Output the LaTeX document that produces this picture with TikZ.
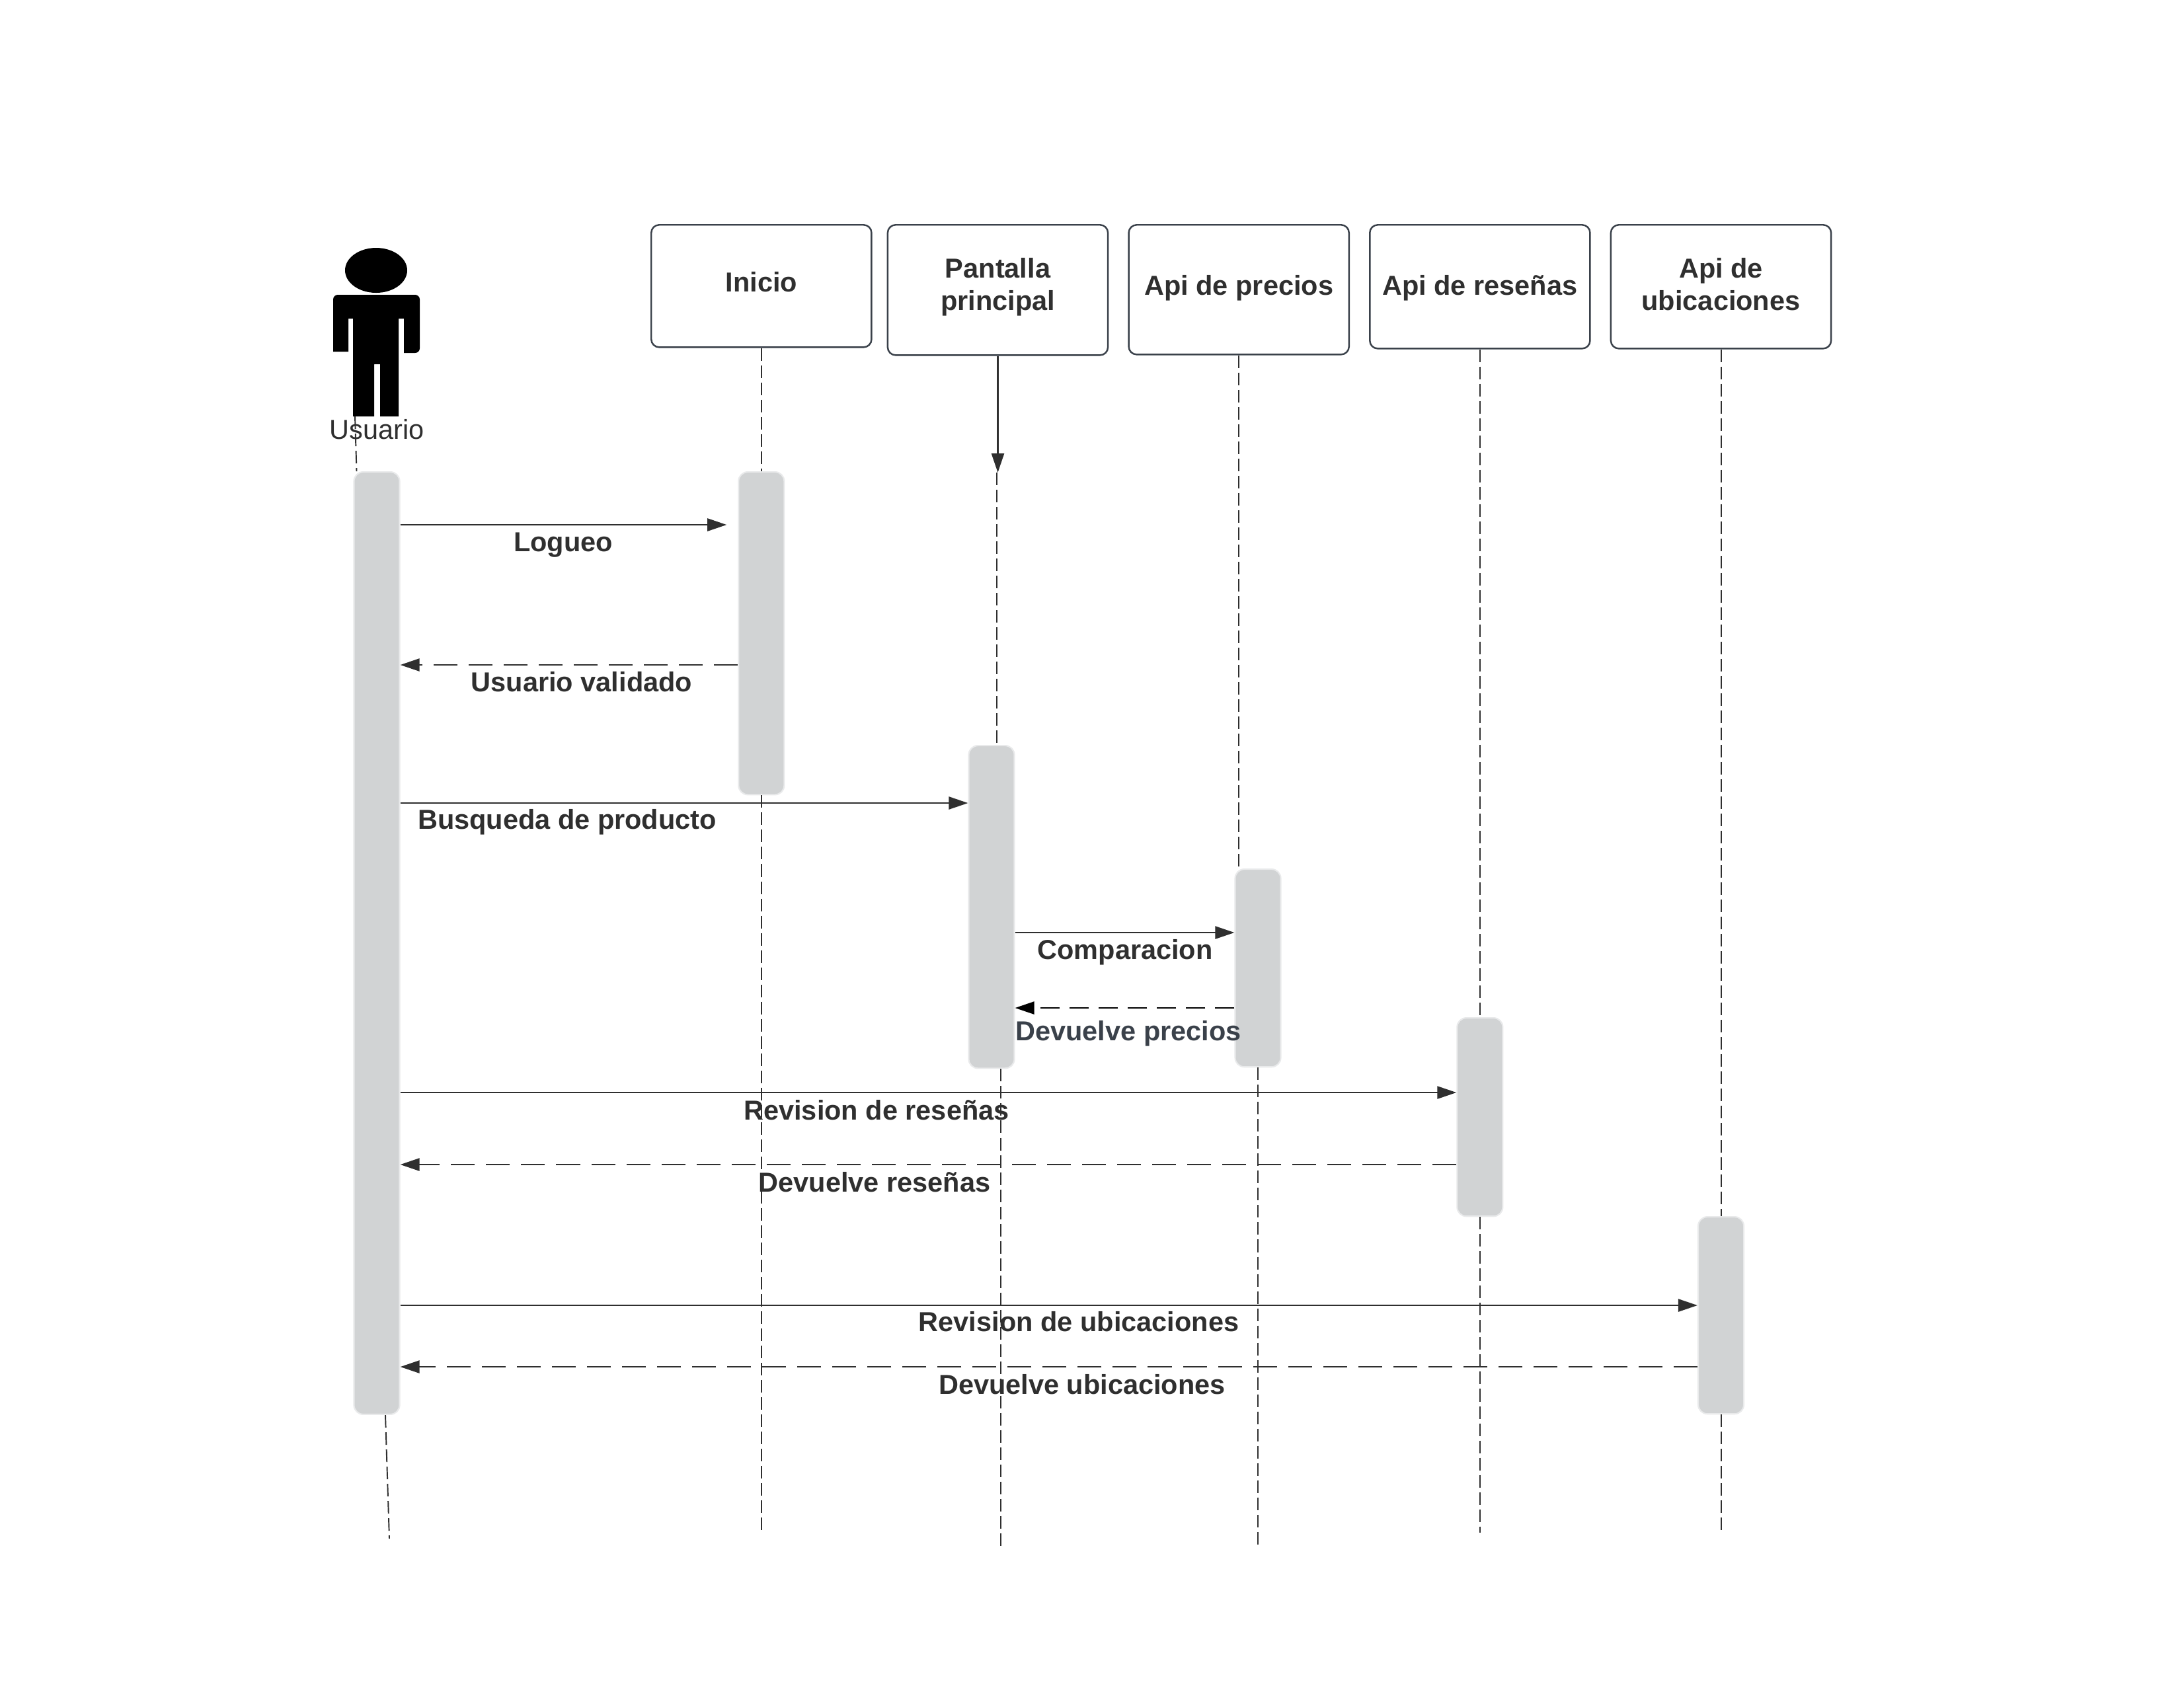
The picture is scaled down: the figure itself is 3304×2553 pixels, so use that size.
\documentclass[tikz,border=0pt]{standalone}
\usepackage{fontspec}
\setmainfont{Liberation Sans}
\usepackage{tikz}
\usetikzlibrary{arrows.meta,positioning}
\definecolor{inkgray}{HTML}{2F2F2F}
\definecolor{slategray}{HTML}{3A414A}
\definecolor{barfill}{HTML}{D1D3D4}
\definecolor{baredge}{HTML}{E9EAEB}

\begin{document}
\begin{tikzpicture}[
    x=0.01cm,
    y=-0.01cm,
    headbox/.style={
    rectangle,
    draw=slategray,
    line width=0.7pt,
    rounded corners=0.12cm,
    align=center,
    inner sep=0pt,
    minimum width=3.33cm,
    text=inkgray,
    font=\fontsize{11.8}{13.9}\selectfont\bfseries},
    lifebar/.style={
    rectangle,
    draw=baredge,
    line width=0.6pt,
    fill=barfill,
    rounded corners=0.14cm,
    inner sep=0pt,
    minimum width=0.69cm},
    msglabel/.style={
    inner sep=0pt,
    text=inkgray,
    font=\fontsize{11.8}{13.9}\selectfont\bfseries},
    msgarrow/.style={
    draw=inkgray,
    line width=0.7pt,
    -{Triangle[length=0.29cm,width=0.19cm]}},
    backarrow/.style={
    msgarrow,
    dash pattern=on 0.36cm off 0.17cm},
    lifeline/.style={
    draw=inkgray,
    line width=0.55pt,
    dash pattern=on 0.19cm off 0.07cm},
    node distance=0.23cm and 0.29cm
    ]

    \useasboundingbox[fill=white] (0,0) rectangle (3304,2553);

    \fill[black] (569,409) ellipse [x radius=47, y radius=34];
    \fill[black] (504,532) {[rounded corners=0.07cm] -- (504,446) -- (635,446) -- (635,534)}
        -- (611,534) -- (611,482) -- (603,482) -- (603,630) -- (575,630) -- (575,551)
        -- (566,551) -- (566,630) -- (534,630) -- (534,482) -- (527,482) -- (527,532) -- cycle;
    \node[inner sep=0pt, text=inkgray, font=\fontsize{11.8}{13.9}\selectfont] (usuario) at (570,650) {Usuario};

    \node[headbox, minimum height=1.85cm, text depth=0.12cm, anchor=north west] (inicio) at (984,339) {Inicio};
    \node[headbox, minimum height=1.97cm, text depth=0.17cm, right = 0.22cm of inicio.north east, anchor=north west] (pantalla) {Pantalla\\principal};
    \node[headbox, minimum height=1.96cm, text depth=0.13cm, right = of pantalla.north east, anchor=north west] (precios) {Api de precios};
    \node[headbox, minimum height=1.87cm, text depth=0.04cm, right = of precios.north east, anchor=north west] (resenas) {Api de reseñas};
    \node[headbox, minimum height=1.87cm, text depth=0.08cm, right = 0.29cm of resenas.north east, anchor=north west] (ubicaciones) {Api de\\ubicaciones};

    \node[lifebar, minimum height=14.25cm, anchor=north] (barU) at (570,713) {};
    \node[lifebar, minimum height=4.88cm, anchor=north] (barI) at (inicio.south |- 0,713) {};
    \node[lifebar, minimum height=4.88cm, anchor=north] (barP) at (1500,1127) {};
    \node[lifebar, minimum height=2.99cm, anchor=north] (barR) at (1903,1314) {};
    \node[lifebar, minimum height=3cm, anchor=north] (barS) at (resenas.south |- 0,1539) {};
    \node[lifebar, minimum height=2.98cm, anchor=north] (barL) at (ubicaciones.south |- 0,1840) {};

    \coordinate (userTop) at (537,630);
    \coordinate (userMid) at (539.5,713);
    \coordinate (userLow) at (583,2141);
    \coordinate (userEnd) at (589,2328);
    \coordinate (pantTip) at (pantalla.south |- 0,715);
    \coordinate (pantMid) at (1508,715);
    \coordinate (inicEnd) at (inicio.south |- 0,2319);
    \coordinate (pantEnd) at (1514,2342);
    \coordinate (precEnd) at (barR.south |- 0,2342);
    \coordinate (reseEnd) at (resenas.south |- 0,2319);
    \coordinate (ubicEnd) at (ubicaciones.south |- 0,2319);

    \draw[lifeline] (userTop) -- (userMid);
    \draw[lifeline] (userLow) -- (userEnd);
    \draw[lifeline] (inicio.south) -- (barI.north);
    \draw[lifeline] (barI.south) -- (inicEnd);
    \draw[msgarrow] (pantalla.south) -- (pantTip);
    \draw[lifeline] (pantMid) -- (pantMid |- barP.north);
    \draw[lifeline] (pantEnd |- barP.south) -- (pantEnd);
    \draw[lifeline] (precios.south) -- (precios.south |- barR.north);
    \draw[lifeline] (barR.south) -- (precEnd);
    \draw[lifeline] (resenas.south) -- (barS.north);
    \draw[lifeline] (barS.south) -- (reseEnd);
    \draw[lifeline] (ubicaciones.south) -- (barL.north);
    \draw[lifeline] (barL.south) -- (ubicEnd);

    \coordinate (m1) at (0,794);
    \coordinate (m2) at (0,1006);
    \coordinate (m3) at (0,1215);
    \coordinate (m4) at (0,1411);
    \coordinate (m5) at (0,1525);
    \coordinate (m6) at (0,1653);
    \coordinate (m7) at (0,1762);
    \coordinate (m8) at (0,1975);
    \coordinate (m9) at (0,2068);

    \draw[msgarrow, shorten >=0.17cm] (barU.east |- m1) -- (barI.west |- m1);
    \draw[backarrow] (barI.west |- m2) -- (barU.east |- m2);
    \draw[msgarrow] (barU.east |- m3) -- (barP.west |- m3);
    \draw[msgarrow] (barP.east |- m4) -- (barR.west |- m4);
    \draw[backarrow, draw=black, dash pattern=on 0.29cm off 0.15cm] (barR.west |- m5) -- (barP.east |- m5);
    \draw[msgarrow] (barU.east |- m6) -- (barS.west |- m6);
    \draw[backarrow] (barS.west |- m7) -- (barU.east |- m7);
    \draw[msgarrow] (barU.east |- m8) -- (barL.west |- m8);
    \draw[backarrow] (barL.west |- m9) -- (barU.east |- m9);

    \node[msglabel] (logueo) at (852,825) {Logueo};
    \node[msglabel] (validado) at (880,1032) {Usuario validado};
    \node[msglabel] (busqueda) at (858,1244) {Busqueda de producto};
    \node[msglabel] (comparacion) at (1702,1441) {Comparacion};
    \node[msglabel, text=slategray] (devprecios) at (1707,1564) {Devuelve precios};
    \node[msglabel] (revresenas) at (1326,1680) {Revision de reseñas};
    \node[msglabel] (devresenas) at (1323,1789) {Devuelve reseñas};
    \node[msglabel] (revubicaciones) at (1632,2000) {Revision de ubicaciones};
    \node[msglabel] (devubicaciones) at (1637,2095) {Devuelve ubicaciones};
\end{tikzpicture}
\end{document}
